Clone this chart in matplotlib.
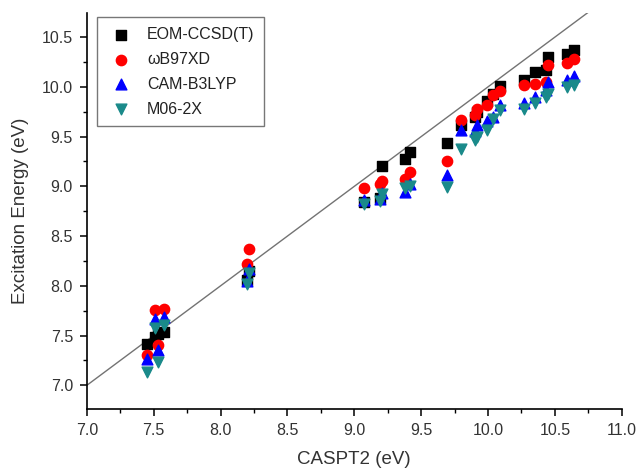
import numpy as np
import matplotlib.pyplot as plt
from matplotlib.ticker import MultipleLocator

# CASPT2 reference energies (eV), shared by all methods
caspt2 = [7.45, 7.51, 7.53, 7.58, 8.20, 8.21, 9.07, 9.19, 9.21, 9.38, 9.42,
          9.69, 9.80, 9.90, 9.92, 9.99, 10.04, 10.09, 10.27, 10.35, 10.43,
          10.45, 10.59, 10.64]

eom_ccsd_t = [7.42, 7.49, 7.52, 7.54, 8.06, 8.15, 8.84, 8.88, 9.20, 9.27, 9.35,
              9.44, 9.62, 9.70, 9.75, 9.86, 9.93, 10.01, 10.07, 10.15, 10.17,
              10.30, 10.33, 10.37]
wb97xd = [7.30, 7.76, 7.41, 7.77, 8.22, 8.37, 8.98, 9.02, 9.05, 9.07, 9.14,
          9.25, 9.67, 9.72, 9.78, 9.82, 9.92, 9.96, 10.02, 10.03, 10.05,
          10.22, 10.24, 10.28]
cam_b3lyp = [7.26, 7.67, 7.36, 7.69, 8.05, 8.17, 8.86, 8.87, 8.93, 8.94, 9.02,
             9.11, 9.57, 9.56, 9.62, 9.66, 9.70, 9.82, 9.84, 9.90, 9.97,
             10.05, 10.07, 10.11]
m06_2x = [7.13, 7.58, 7.23, 7.61, 8.02, 8.13, 8.82, 8.85, 8.92, 8.98, 9.00,
          8.99, 9.38, 9.47, 9.50, 9.57, 9.68, 9.77, 9.78, 9.84, 9.90,
          9.93, 10.00, 10.02]

# y = x guide line
diag = [6.5, 11.5]

plt.rcParams['font.family'] = ['Liberation Sans', 'DejaVu Sans']

fig = plt.figure(figsize=(6.43, 4.72), dpi=100)
ax = fig.add_axes([0.135, 0.133, 0.832, 0.839])

ax.plot(diag, diag, color=[.45, .45, .45], linewidth=1.0, zorder=1)

ax.scatter(caspt2, eom_ccsd_t, marker='s', s=48, color='black',
           label='EOM-CCSD(T)', zorder=3)
ax.scatter(caspt2, wb97xd, marker='o', s=55, color='#ff0000',
           label='\u03c9B97XD', zorder=3)
ax.scatter(caspt2, cam_b3lyp, marker='^', s=60, color='#0000ff',
           label='CAM-B3LYP', zorder=3)
ax.scatter(caspt2, m06_2x, marker='v', s=60, color='#1a8a8a',
           label='M06-2X', zorder=3)

ax.set_xlim(7.0, 11.0)
ax.set_ylim(6.76, 10.74)
ax.xaxis.set_major_locator(MultipleLocator(0.5))
ax.xaxis.set_minor_locator(MultipleLocator(0.25))
ax.yaxis.set_major_locator(MultipleLocator(0.5))
ax.yaxis.set_minor_locator(MultipleLocator(0.25))
ax.xaxis.set_major_formatter(plt.FormatStrFormatter('%.1f'))
ax.yaxis.set_major_formatter(plt.FormatStrFormatter('%.1f'))

for side in ['top', 'right']:
    ax.spines[side].set_visible(False)
for side in ['left', 'bottom']:
    ax.spines[side].set_linewidth(1.2)

ax.tick_params(which='major', direction='out', length=5, width=1.1, pad=5,
               labelsize=11.5, colors='black', labelcolor='#333333')
ax.tick_params(which='minor', direction='out', length=3, width=1.0)

ax.set_xlabel('CASPT2 (eV)', fontsize=13.5, color='#333333', labelpad=9)
ax.set_ylabel('Excitation Energy (eV)', fontsize=13.5, color='#333333', labelpad=9)

leg = ax.legend(loc='upper left', bbox_to_anchor=(0.005, 1.01), fontsize=11.5,
                frameon=True, fancybox=False, edgecolor='#555555',
                handletextpad=0.7, borderpad=0.6, labelspacing=0.62,
                handlelength=1.8, scatterpoints=1)
leg.get_frame().set_linewidth(1.0)
for t in leg.get_texts():
    t.set_color('#222222')

fig.savefig('out.png', dpi=100)
